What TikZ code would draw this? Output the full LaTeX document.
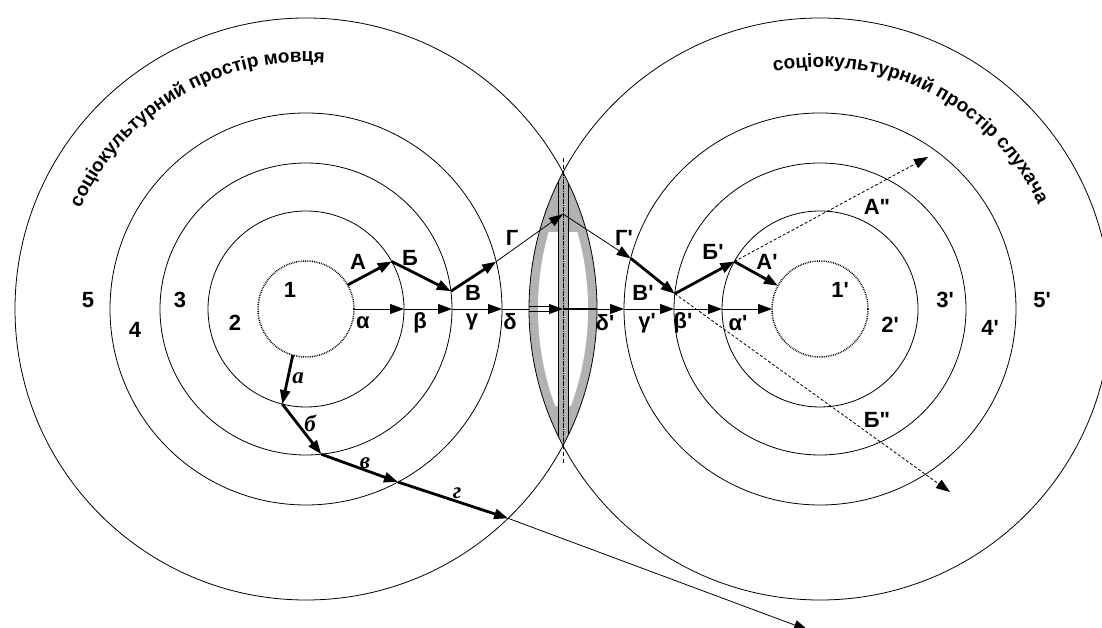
\documentclass[tikz,border=0pt]{standalone}
\usepackage{fontspec}
\setmainfont{Liberation Sans}
\newfontfamily\cursfont{Liberation Serif}
\usetikzlibrary{arrows.meta,decorations.text,patterns}
\newcommand{\prm}{\textquotesingle}
\newcommand{\dprm}{\textquotedbl}

\begin{document}
\begin{tikzpicture}[x=1pt, y=1pt,
    every node/.style={font=\bfseries\fontsize{22}{24}\selectfont, inner sep=1pt},
    ring/.style={circle, draw, line width=0.8pt, inner sep=0pt, outer sep=0pt},
    core/.style={ring, densely dotted, line width=1.5pt},
    tip/.style={-{Triangle[length=14pt,width=10pt]}},
    thn/.style={tip, line width=0.8pt},
    thk/.style={tip, line width=2.8pt},
    dsh/.style={tip, line width=0.8pt, dash pattern=on 3pt off 2pt},
    lbl/.style={font=\cursfont\bfseries\itshape\fontsize{23}{25}\selectfont},
    speck/.style={fill=black!30},
    arctext/.style={decorate, decoration={text along path, text align=left,
        text={|\bfseries\fontsize{19}{21}\selectfont|#1}}}
]
\clip (0,0) rectangle (1102,628);
\coordinate (lc) at (306,319);
\coordinate (rc) at (820,319);
\coordinate (mid) at (563,319);

% lens where the two outer spaces overlap
\begin{scope}
  \clip (lc) circle (291);
  \clip (rc) circle (291);
  \fill[speck] (500,140) rectangle (630,490);
  \begin{scope}
    \clip (lc) circle (282);
    \clip (rc) circle (282);
    \fill[white] (500,222) rectangle (630,396);
  \end{scope}
  \fill[speck] (558,140) rectangle (568,490);
  \draw[line width=0.7pt] (558,140) -- (558,490) (568,140) -- (568,490);
  \draw[line width=1pt, densely dotted] (563,140) -- (563,490);
\end{scope}
\coordinate (vt) at (563,470);
\coordinate (vb) at (563,164);
\draw[line width=0.6pt, dash pattern=on 4pt off 3pt] (vt) -- (vb);

% speaker and listener rings
\node[core, minimum size=96pt] (l1) at (lc) {};
\node[core, minimum size=96pt] (r1) at (rc) {};
\foreach \r/\n in {98/2,146/3,196/4,291/5}{
  \node[ring, minimum size=2*\r pt] (l\n) at (lc) {};
  \node[ring, minimum size=2*\r pt] (r\n) at (rc) {};
}

% curved titles
\path[arctext={соціокультурний простір мовця}]
  ([shift={(156:247)}]lc) arc[start angle=156, end angle=60, radius=247];
\path[arctext={соціокультурний простір слухача}]
  ([shift={(101:242)}]rc) arc[start angle=101, end angle=0, radius=242];

% ring numbers
\node (n1) at (290,338) {1};
\node (n2) at (235,305) {2};
\node (n3) at (180,328) {3};
\node (n4) at (135,298) {4};
\node (n5) at (88,328) {5};
\node (m1) at (840,338) {1\prm};
\node (m2) at (890,303) {2\prm};
\node (m3) at (945,328) {3\prm};
\node (m4) at (990,300) {4\prm};
\node (m5) at (1042,328) {5\prm};

% straight axis
\draw[thn] (l1.0) -- (l2.0);
\draw[thn] (l2.0) -- (l3.0);
\draw[thn] (l3.0) -- (l4.0);
\draw[line width=0.8pt] (l4.0) -- (r5.180);
\draw[line width=0.8pt] ([yshift=2.5pt]r5.180) -- ([shift={(-8pt,2.5pt)}]mid)
                        ([yshift=-2.5pt]r5.180) -- ([shift={(-8pt,-2.5pt)}]mid);
\draw[thn] ([xshift=-12pt]mid) -- (mid);
\draw[line width=2.8pt] (mid) -- (l5.0);
\draw[thn] (l5.0) -- (r4.180);
\draw[thn] (r4.180) -- (r3.180);
\draw[thn] (r3.180) -- (r2.180);
\draw[thn] (r2.180) -- (r1.180);
\node (al) at (363,305) {α};
\node (be) at (420,305) {β};
\node (ga) at (472,306) {γ};
\node (de) at (510,306) {δ};
\node (de2) at (605,305) {δ\prm};
\node (ga2) at (647,305) {γ\prm};
\node (be2) at (683,305) {β\prm};
\node (al2) at (738,305) {α\prm};

% upper route
\coordinate (gm) at (563,414);
\draw[thk] (l1.30) -- (l2.29);
\draw[thk] (l2.29) -- (l3.7);
\draw[thk] (l3.7) -- (l4.14);
\draw[thn] (l4.14) -- (gm);
\draw[thn] (gm) -- (r4.165);
\draw[thk] (r4.165) -- (r3.174);
\draw[thk] (r3.174) -- (r2.151);
\draw[thk] (r2.151) -- (r1.151);
\node (ua) at (358,366) {А};
\node (ub) at (410,370) {Б};
\node (uv) at (473,335) {В};
\node (ug) at (512,390) {Г};
\node (ug2) at (624,390) {Г\prm};
\node (uv2) at (643,335) {В\prm};
\node (ub2) at (713,376) {Б\prm};
\node (ua2) at (767,366) {А\prm};

% dashed offshoots
\coordinate (aend) at (928,471);
\coordinate (bend) at (950,136);
\draw[dsh] (r2.151) -- (aend);
\draw[dsh] (r3.174) -- (bend);
\node (ua3) at (877,421) {А\dprm};
\node (ub3) at (877,208) {Б\dprm};

% lower route
\coordinate (gout) at (808,-2);
\draw[thk] (l1.254) -- (l2.256);
\draw[thk] (l2.256) -- (l3.276);
\draw[thk] (l3.276) -- (l4.298);
\draw[thk] (l4.298) -- (l5.314);
\draw[thn] (l5.314) -- (gout);
\node[lbl] (la) at (298,250) {а};
\node[lbl] (lb) at (310,205) {б};
\node[lbl] (lv) at (365,165) {в};
\node[lbl] (lg) at (457,135) {г};
\end{tikzpicture}
\end{document}
